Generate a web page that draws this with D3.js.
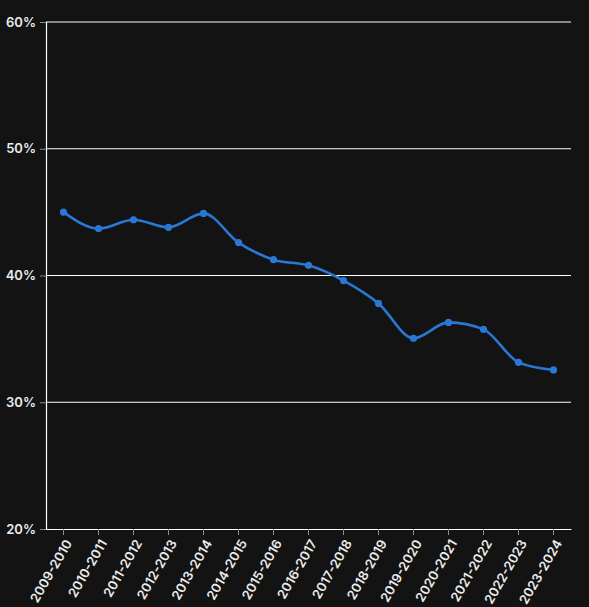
<!DOCTYPE html>
<html>
<head>
<meta charset="utf-8">
<script src="https://cdn.jsdelivr.net/npm/d3@7"></script>
<style>
  html, body { margin: 0; padding: 0; background: #131313; }
  svg { display: block; }
  .tick text { font-family: Inter, "Noto Sans", sans-serif; font-size: 13px; font-weight: 600; fill: #ececec; }
</style>
</head>
<body>
<svg id="chart"></svg>
<script>
"use strict";

// ── Data ─────────────────────────────────────────────────────────────────────
const seasons = [
  "2009-2010", "2010-2011", "2011-2012", "2012-2013", "2013-2014",
  "2014-2015", "2015-2016", "2016-2017", "2017-2018", "2018-2019",
  "2019-2020", "2020-2021", "2021-2022", "2022-2023", "2023-2024"
];
const rates = [
  45.0, 43.7, 44.4, 43.8, 44.9,
  42.6, 41.25, 40.8, 39.6, 37.8,
  35.05, 36.3, 35.75, 33.15, 32.55
];
const yTicks = [20, 30, 40, 50, 60];

// ── Layout ───────────────────────────────────────────────────────────────────
const W = 589, H = 607;
const margin = { top: 22, right: 18, bottom: 78, left: 46 };

const svg = d3.select("#chart").attr("width", W).attr("height", H);
const g = svg.append("g").attr("transform", `translate(${margin.left},${margin.top})`);
const iw = W - margin.left - margin.right;
const ih = H - margin.top - margin.bottom;

const x = d3.scaleBand().domain(seasons).range([0, iw]).padding(0);
const y = d3.scaleLinear().domain([20, 60]).range([ih, 0]);
const cx = d => x(d) + x.bandwidth() / 2;

// grid lines
g.append("g")
  .selectAll("line")
  .data(yTicks.filter(t => t > 20))
  .join("line")
  .attr("x1", 0).attr("x2", iw)
  .attr("y1", d => y(d)).attr("y2", d => y(d))
  .attr("stroke", "#ffffff").attr("stroke-width", 1);

// y axis
const yAxis = g.append("g")
  .call(d3.axisLeft(y).tickValues(yTicks).tickFormat(d => d + "%").tickSize(6).tickPadding(4));
yAxis.select(".domain").attr("stroke", "#ffffff").attr("stroke-width", 1.2);
yAxis.selectAll(".tick line").attr("stroke", "#8a8a8a");

// x axis
const xAxis = g.append("g")
  .attr("transform", `translate(0,${ih})`)
  .call(d3.axisBottom(x).tickSize(6).tickSizeOuter(0));
xAxis.select(".domain").attr("stroke", "#ffffff").attr("stroke-width", 1.2);
xAxis.selectAll(".tick line").attr("stroke", "#8a8a8a");
xAxis.selectAll(".tick text")
  .attr("x", 0).attr("y", 0).attr("dy", 0)
  .attr("text-anchor", "end")
  .attr("transform", "translate(9,14) rotate(-60)");

// line
const pts = seasons.map((s, i) => [cx(s), y(rates[i])]);
g.append("path")
  .datum(pts)
  .attr("fill", "none")
  .attr("stroke", "#2a78d6")
  .attr("stroke-width", 2.6)
  .attr("d", d3.line().curve(d3.curveMonotoneX));

g.append("g")
  .selectAll("circle")
  .data(pts)
  .join("circle")
  .attr("cx", d => d[0]).attr("cy", d => d[1])
  .attr("r", 3.6)
  .attr("fill", "#2a78d6");
</script>
</body>
</html>
